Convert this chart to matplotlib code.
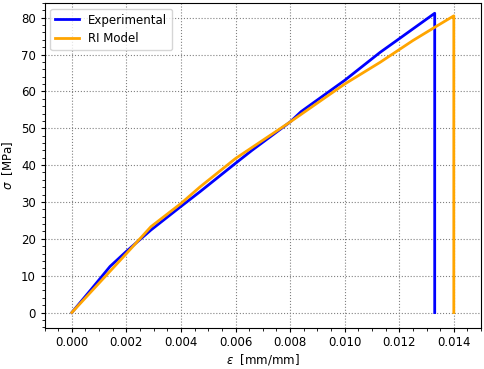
import matplotlib
matplotlib.use('Agg')
import matplotlib.pyplot as plt

# experimental curve
exp_strain = [0, 0.0007, 0.0014, 0.0020, 0.0029, 0.0040, 0.0047, 0.0060, 0.0066,
              0.0080, 0.0084, 0.0100, 0.0113, 0.0120, 0.0133, 0.0133]
exp_stress = [0, 6.2, 12.5, 16.6, 22.4, 28.8, 32.8, 40.5, 44.0,
              51.7, 54.5, 63.0, 70.6, 74.3, 81.2, 0]

# RI model curve
ri_strain = [0, 0.0010, 0.0020, 0.0029, 0.0040, 0.0047, 0.0060, 0.0080,
             0.0100, 0.0113, 0.0125, 0.0133, 0.0140, 0.0140]
ri_stress = [0, 8.0, 16.0, 23.3, 29.6, 34.1, 41.8, 51.7,
             62.0, 67.9, 73.8, 77.4, 80.5, 0]

plt.rcParams['font.size'] = 8.5

fig = plt.figure(figsize=(4.84, 3.69), dpi=100)
ax = fig.add_axes([0.092, 0.112, 0.902, 0.880])

ax.plot(exp_strain, exp_stress, color='blue', linewidth=2, label='Experimental')
ax.plot(ri_strain, ri_stress, color='orange', linewidth=2, label='RI Model')

ax.set_xlim(-0.001, 0.015)
ax.set_ylim(-4.1, 84)
ax.set_xticks([0, 0.002, 0.004, 0.006, 0.008, 0.010, 0.012, 0.014])
ax.minorticks_on()
ax.tick_params(which='major', length=3.2, pad=3)
ax.grid(True, which='major', linestyle=':', color='gray')

ax.set_xlabel(r'$\varepsilon$  [mm/mm]', labelpad=2)
ax.set_ylabel(r'$\sigma$  [MPa]')
ax.legend(loc='upper left')

fig.savefig('out.png', dpi=100)
